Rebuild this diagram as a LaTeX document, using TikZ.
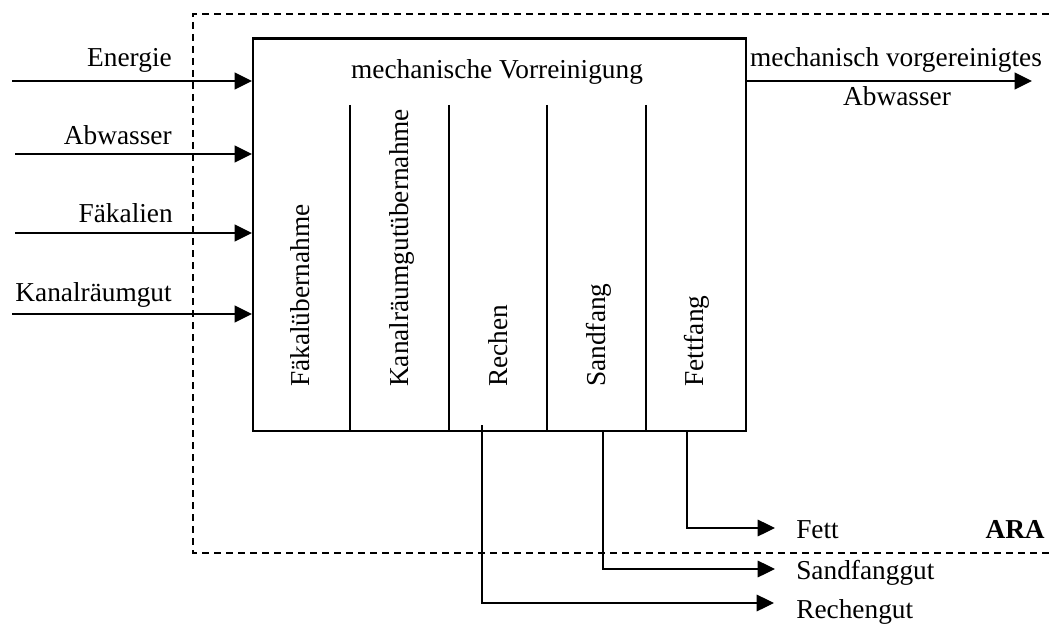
\documentclass[tikz,border=0pt]{standalone}
\usepackage{fontspec}
\setmainfont{Liberation Serif}
\usetikzlibrary{arrows.meta}
\begin{document}
\begin{tikzpicture}[x=0.75pt,y=-0.75pt,
  font=\fontsize{20.5pt}{24pt}\selectfont,
  arr/.style={line width=1.2pt,-{Triangle[length=13pt,width=12.5pt]}},
  outarr/.style={line width=0.9pt,-{Triangle[length=13pt,width=12.5pt]}},
  lbl/.style={inner sep=0pt},
  boxline/.style={line width=1.7pt},
  vlbl/.style={inner sep=0pt,rotate=90,anchor=base west},
  border/.style={line width=1.1pt,dash pattern=on 5.25pt off 3.75pt}]
\useasboundingbox (0,0) rectangle (1049,624);
% system boundary
\draw[border] (1049,14) -- (193,14) -- (193,553) -- (1049,553);
% main box
\node[draw,boxline,inner sep=0pt,anchor=north west,minimum width=369.75pt,minimum height=294.4pt] (box) at (252,37.5) {};
\node[lbl,anchor=base] (title) at (497,79) {mechanische Vorreinigung};
% dividers
\foreach \x/\n in {350/d1,449/d2,547/d3,646/d4}{
  \coordinate (\n) at (\x,105);
  \draw[boxline] (\n) -- (\n |- box.south);
}
% vertical labels
\node[vlbl] (fu) at (309,387) {Fäkalübernahme};
\node[vlbl] (ku) at (408,387) {Kanalräumgutübernahme};
\node[vlbl] (re) at (507,387) {Rechen};
\node[vlbl] (sf) at (605,387) {Sandfang};
\node[vlbl] (ff) at (703,387) {Fettfang};
% inputs
\coordinate (i1) at (12,81);
\coordinate (i2) at (15,154);
\coordinate (i3) at (15,233);
\coordinate (i4) at (12,314);
\draw[arr] (i1) -- (i1 -| box.west);
\draw[arr] (i2) -- (i2 -| box.west);
\draw[arr] (i3) -- (i3 -| box.west);
\draw[arr] (i4) -- (i4 -| box.west);
\node[lbl,anchor=base east] (l1) at (172,67) {Energie};
\node[lbl,anchor=base east] (l2) at (172,145) {Abwasser};
\node[lbl,anchor=base east] (l3) at (173,223) {Fäkalien};
\node[lbl,anchor=base east] (l4) at (172,301) {Kanalräumgut};
% output water
\coordinate (o1) at (1032,81);
\draw[arr] (o1 -| box.east) -- (o1);
\node[lbl,anchor=base] (ol1) at (896,67) {mechanisch vorgereinigtes};
\node[lbl,anchor=base] (ol2) at (897,106) {Abwasser};
% residues
\coordinate (r0) at (482,425);
\coordinate (rt) at (774,603);
\coordinate (s0) at (603,430);
\coordinate (st) at (775,569);
\coordinate (f0) at (687,430);
\coordinate (ft) at (775,528);
\draw[outarr] (r0) |- (rt);
\draw[outarr] (s0) |- (st);
\draw[outarr] (f0) |- (ft);
\node[lbl,anchor=base west] (fett) at (796,538) {Fett};
\node[lbl,anchor=base west] (sand) at (796,579) {Sandfanggut};
\node[lbl,anchor=base west] (rech) at (796,618) {Rechengut};
\node[lbl,anchor=base east] (ara) at (1045,538) {\bfseries ARA};
\end{tikzpicture}
\end{document}
